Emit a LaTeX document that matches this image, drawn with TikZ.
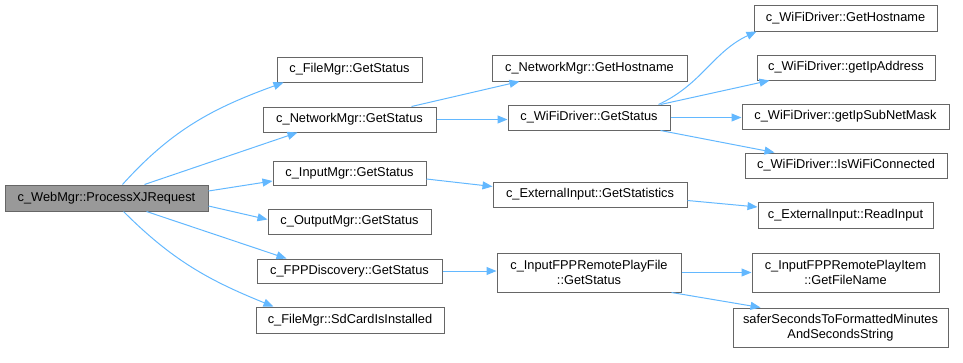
\documentclass[tikz,border=0pt]{standalone}
\usepackage{fontspec}
\setmainfont{Liberation Sans}
\usetikzlibrary{arrows.meta,calc}
\definecolor{edgeblue}{HTML}{63B8FF}
\definecolor{boxline}{HTML}{666666}
\definecolor{rootfill}{HTML}{999999}
\tikzset{
  fn/.style={draw=boxline, line width=1pt, fill=white, inner sep=0pt,
    align=center, font=\fontsize{12.8}{14.5}\selectfont, text=black},
  rootfn/.style={fn, fill=rootfill},
  call/.style={draw=edgeblue, line width=1pt,
    -{Triangle[length=10pt,width=8pt]}},
}
\begin{document}
\begin{tikzpicture}[x=1pt,y=-1pt]
\useasboundingbox (0,0) rectangle (963,362);

% caller
\node[rootfn, minimum width=203pt, minimum height=26pt] (root) at (106.5,198) {c\_WebMgr::ProcessXJRequest};

% first level
\node[fn, minimum width=145pt, minimum height=25pt] (fs)   at (349.5,69.5) {c\_FileMgr::GetStatus};
\node[fn, minimum width=173pt, minimum height=25pt] (ngs)  at (349.5,119.5) {c\_NetworkMgr::GetStatus};
\node[fn, minimum width=153pt, minimum height=24pt] (igs)  at (349.5,173) {c\_InputMgr::GetStatus};
\node[fn, minimum width=163pt, minimum height=25pt] (ogs)  at (349.5,221.5) {c\_OutputMgr::GetStatus};
\node[fn, minimum width=185pt, minimum height=24pt] (fpp)  at (349.5,271) {c\_FPPDiscovery::GetStatus};
\node[fn, minimum width=188pt, minimum height=26pt] (sd)   at (350,320) {c\_FileMgr::SdCardIsInstalled};

% second level
\node[fn, minimum width=195pt, minimum height=26pt] (nhost) at (589.5,68) {c\_NetworkMgr::GetHostname};
\node[fn, minimum width=162pt, minimum height=25pt] (wgs)   at (589,117.5) {c\_WiFiDriver::GetStatus};
\node[fn, minimum width=194pt, minimum height=25pt] (ext)   at (590,194.5) {c\_ExternalInput::GetStatistics};
\node[fn, minimum width=184pt, minimum height=39pt] (rpf)   at (589,272.5) {c\_InputFPPRemotePlayFile\\::GetStatus};

% third level
\node[fn, minimum width=183pt, minimum height=26pt] (whost) at (845.5,18) {c\_WiFiDriver::GetHostname};
\node[fn, minimum width=178pt, minimum height=25pt] (wip)   at (846,67.5) {c\_WiFiDriver::getIpAddress};
\node[fn, minimum width=207pt, minimum height=25pt] (wmask) at (845.5,116.5) {c\_WiFiDriver::getIpSubNetMask};
\node[fn, minimum width=202pt, minimum height=25pt] (wconn) at (846,165.5) {c\_WiFiDriver::IsWiFiConnected};
\node[fn, minimum width=175pt, minimum height=26pt] (read)  at (845.5,215) {c\_ExternalInput::ReadInput};
\node[fn, minimum width=187pt, minimum height=39pt] (fname) at (845.5,272.5) {c\_InputFPPRemotePlayItem\\::GetFileName};
\node[fn, minimum width=215pt, minimum height=39pt] (safer) at (840.5,327.5) {saferSecondsToFormattedMinutes\\AndSecondsString};

% calls from the caller
\draw[call] ($(root.north)+(16,0)$) to[out=48,in=200] ($(fs.south west)+(7,0)$);
\draw[call] ($(root.north)+(38,0)$) -- ($(ngs.south west)+(35,0)$);
\draw[call] ($(root.east)+(0,-7)$) -- ($(igs.west)+(0,8)$);
\draw[call] ($(root.east)+(0,8)$) -- ($(ogs.west)+(0,-2)$);
\draw[call] ($(root.south)+(40,0)$) -- ($(fpp.north west)+(30,0)$);
\draw[call] ($(root.south)+(17,0)$) to[out=-45,in=158] ($(sd.north west)+(18,0)$);

% second-level calls
\draw[call] ($(ngs.north east)+(-25,0)$) -- ($(nhost.south west)+(28,0)$);
\draw[call] (ngs.east) -- (ngs.east -| wgs.west);
\draw[call] ($(igs.east)+(0,6)$) -- ($(ext.west)+(0,-8)$);
\draw[call] (fpp.east) -- (fpp.east -| rpf.west);

% third-level calls
\draw[call] ($(wgs.north east)+(-12,0)$) to[out=25,in=205] ($(whost.south west)+(3,0)$);
\draw[call] ($(wgs.north east)+(-10,0)$) -- ($(wip.south west)+(13,0)$);
\draw[call] (wgs.east) -- (wgs.east -| wmask.west);
\draw[call] ($(wgs.south east)+(-10,0)$) -- ($(wconn.north west)+(30,0)$);
\draw[call] ($(ext.east)+(0,6)$) -- ($(read.west)+(0,-8)$);
\draw[call] (rpf.east) -- (rpf.east -| fname.west);
\draw[call] ($(rpf.south east)+(-10,0)$) -- ($(safer.north west)+(28,0)$);
\end{tikzpicture}
\end{document}
